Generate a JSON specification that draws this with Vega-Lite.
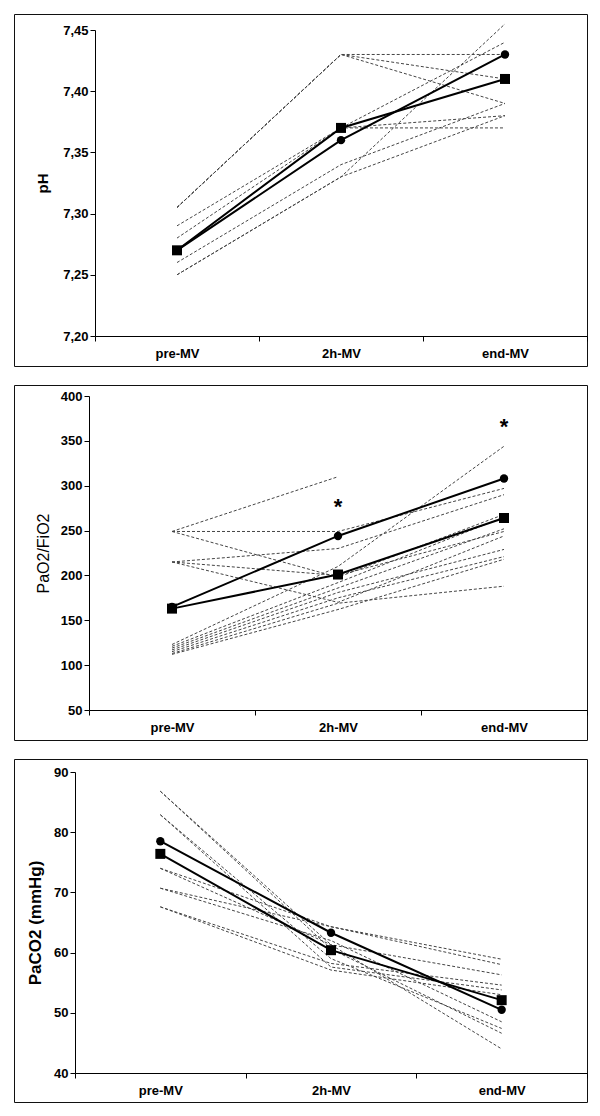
{
  "$schema": "https://vega.github.io/schema/vega-lite/v6.json",
  "padding": {"left": 13, "top": 13, "right": 0, "bottom": 0},
  "spacing": 17,
  "config": {
    "view": {"stroke": "#111", "strokeWidth": 1},
    "font": "Liberation Sans",
    "axis": {
      "domainColor": "#000", "tickColor": "#000", "labelColor": "#000", "titleColor": "#000",
      "labelFont": "Liberation Sans", "titleFont": "Liberation Sans",
      "labelFontWeight": "bold", "labelFontSize": 13, "grid": false, "tickSize": 5,
      "domainWidth": 1, "tickWidth": 1
    }
  },
  "datasets": {
    "ph_pat": [
      {"pt": "A", "t": "pre-MV", "i": 0, "v": 7.305}, {"pt": "A", "t": "2h-MV", "i": 1, "v": 7.43}, {"pt": "A", "t": "end-MV", "i": 2, "v": 7.43},
      {"pt": "B", "t": "pre-MV", "i": 0, "v": 7.305}, {"pt": "B", "t": "2h-MV", "i": 1, "v": 7.43}, {"pt": "B", "t": "end-MV", "i": 2, "v": 7.41},
      {"pt": "C", "t": "pre-MV", "i": 0, "v": 7.305}, {"pt": "C", "t": "2h-MV", "i": 1, "v": 7.43}, {"pt": "C", "t": "end-MV", "i": 2, "v": 7.39},
      {"pt": "D", "t": "pre-MV", "i": 0, "v": 7.29}, {"pt": "D", "t": "2h-MV", "i": 1, "v": 7.37}, {"pt": "D", "t": "end-MV", "i": 2, "v": 7.37},
      {"pt": "E", "t": "pre-MV", "i": 0, "v": 7.28}, {"pt": "E", "t": "2h-MV", "i": 1, "v": 7.37}, {"pt": "E", "t": "end-MV", "i": 2, "v": 7.38},
      {"pt": "F", "t": "pre-MV", "i": 0, "v": 7.27}, {"pt": "F", "t": "2h-MV", "i": 1, "v": 7.37}, {"pt": "F", "t": "end-MV", "i": 2, "v": 7.44},
      {"pt": "G", "t": "pre-MV", "i": 0, "v": 7.26}, {"pt": "G", "t": "2h-MV", "i": 1, "v": 7.34}, {"pt": "G", "t": "end-MV", "i": 2, "v": 7.39},
      {"pt": "H", "t": "pre-MV", "i": 0, "v": 7.25}, {"pt": "H", "t": "2h-MV", "i": 1, "v": 7.33}, {"pt": "H", "t": "end-MV", "i": 2, "v": 7.455},
      {"pt": "I", "t": "pre-MV", "i": 0, "v": 7.25}, {"pt": "I", "t": "2h-MV", "i": 1, "v": 7.33}, {"pt": "I", "t": "end-MV", "i": 2, "v": 7.38}
    ],
    "ph_mean": [
      {"g": "circle", "t": "pre-MV", "i": 0, "v": 7.27}, {"g": "circle", "t": "2h-MV", "i": 1, "v": 7.36}, {"g": "circle", "t": "end-MV", "i": 2, "v": 7.43},
      {"g": "square", "t": "pre-MV", "i": 0, "v": 7.27}, {"g": "square", "t": "2h-MV", "i": 1, "v": 7.37}, {"g": "square", "t": "end-MV", "i": 2, "v": 7.41}
    ],
    "pf_pat": [
      {"pt": "A", "t": "pre-MV", "i": 0, "v": 249}, {"pt": "A", "t": "2h-MV", "i": 1, "v": 310},
      {"pt": "B", "t": "pre-MV", "i": 0, "v": 249}, {"pt": "B", "t": "2h-MV", "i": 1, "v": 249}, {"pt": "B", "t": "end-MV", "i": 2, "v": 297},
      {"pt": "C", "t": "pre-MV", "i": 0, "v": 249}, {"pt": "C", "t": "2h-MV", "i": 1, "v": 198}, {"pt": "C", "t": "end-MV", "i": 2, "v": 268},
      {"pt": "D", "t": "pre-MV", "i": 0, "v": 215}, {"pt": "D", "t": "2h-MV", "i": 1, "v": 230}, {"pt": "D", "t": "end-MV", "i": 2, "v": 290},
      {"pt": "E", "t": "pre-MV", "i": 0, "v": 215}, {"pt": "E", "t": "2h-MV", "i": 1, "v": 200}, {"pt": "E", "t": "end-MV", "i": 2, "v": 249},
      {"pt": "F", "t": "pre-MV", "i": 0, "v": 215}, {"pt": "F", "t": "2h-MV", "i": 1, "v": 170}, {"pt": "F", "t": "end-MV", "i": 2, "v": 244},
      {"pt": "G", "t": "pre-MV", "i": 0, "v": 123}, {"pt": "G", "t": "2h-MV", "i": 1, "v": 210}, {"pt": "G", "t": "end-MV", "i": 2, "v": 344},
      {"pt": "H", "t": "pre-MV", "i": 0, "v": 121}, {"pt": "H", "t": "2h-MV", "i": 1, "v": 192}, {"pt": "H", "t": "end-MV", "i": 2, "v": 265},
      {"pt": "I", "t": "pre-MV", "i": 0, "v": 119}, {"pt": "I", "t": "2h-MV", "i": 1, "v": 186}, {"pt": "I", "t": "end-MV", "i": 2, "v": 252},
      {"pt": "J", "t": "pre-MV", "i": 0, "v": 117}, {"pt": "J", "t": "2h-MV", "i": 1, "v": 181}, {"pt": "J", "t": "end-MV", "i": 2, "v": 229},
      {"pt": "K", "t": "pre-MV", "i": 0, "v": 115}, {"pt": "K", "t": "2h-MV", "i": 1, "v": 175}, {"pt": "K", "t": "end-MV", "i": 2, "v": 221},
      {"pt": "L", "t": "pre-MV", "i": 0, "v": 113}, {"pt": "L", "t": "2h-MV", "i": 1, "v": 169}, {"pt": "L", "t": "end-MV", "i": 2, "v": 188},
      {"pt": "M", "t": "pre-MV", "i": 0, "v": 112}, {"pt": "M", "t": "2h-MV", "i": 1, "v": 162}, {"pt": "M", "t": "end-MV", "i": 2, "v": 218}
    ],
    "pf_mean": [
      {"g": "circle", "t": "pre-MV", "i": 0, "v": 165}, {"g": "circle", "t": "2h-MV", "i": 1, "v": 244}, {"g": "circle", "t": "end-MV", "i": 2, "v": 308},
      {"g": "square", "t": "pre-MV", "i": 0, "v": 163}, {"g": "square", "t": "2h-MV", "i": 1, "v": 201}, {"g": "square", "t": "end-MV", "i": 2, "v": 264}
    ],
    "pf_star": [
      {"t": "2h-MV", "v": 276, "s": "*"},
      {"t": "end-MV", "v": 366, "s": "*"}
    ],
    "co_pat": [
      {"pt": "A", "t": "pre-MV", "i": 0, "v": 86.8}, {"pt": "A", "t": "2h-MV", "i": 1, "v": 60.6}, {"pt": "A", "t": "end-MV", "i": 2, "v": 46.6},
      {"pt": "B", "t": "pre-MV", "i": 0, "v": 82.9}, {"pt": "B", "t": "2h-MV", "i": 1, "v": 57.6}, {"pt": "B", "t": "end-MV", "i": 2, "v": 53.8},
      {"pt": "C", "t": "pre-MV", "i": 0, "v": 74.0}, {"pt": "C", "t": "2h-MV", "i": 1, "v": 64.3}, {"pt": "C", "t": "end-MV", "i": 2, "v": 58.9},
      {"pt": "D", "t": "pre-MV", "i": 0, "v": 70.7}, {"pt": "D", "t": "2h-MV", "i": 1, "v": 64.3}, {"pt": "D", "t": "end-MV", "i": 2, "v": 58.0},
      {"pt": "E", "t": "pre-MV", "i": 0, "v": 67.6}, {"pt": "E", "t": "2h-MV", "i": 1, "v": 58.2}, {"pt": "E", "t": "end-MV", "i": 2, "v": 54.6},
      {"pt": "F", "t": "pre-MV", "i": 0, "v": 86.8}, {"pt": "F", "t": "2h-MV", "i": 1, "v": 61.3}, {"pt": "F", "t": "end-MV", "i": 2, "v": 44.0},
      {"pt": "G", "t": "pre-MV", "i": 0, "v": 82.9}, {"pt": "G", "t": "2h-MV", "i": 1, "v": 59.0}, {"pt": "G", "t": "end-MV", "i": 2, "v": 47.4},
      {"pt": "H", "t": "pre-MV", "i": 0, "v": 74.0}, {"pt": "H", "t": "2h-MV", "i": 1, "v": 61.3}, {"pt": "H", "t": "end-MV", "i": 2, "v": 56.3},
      {"pt": "I", "t": "pre-MV", "i": 0, "v": 67.6}, {"pt": "I", "t": "2h-MV", "i": 1, "v": 57.1}, {"pt": "I", "t": "end-MV", "i": 2, "v": 53.0},
      {"pt": "J", "t": "pre-MV", "i": 0, "v": 70.7}, {"pt": "J", "t": "2h-MV", "i": 1, "v": 62.0}, {"pt": "J", "t": "end-MV", "i": 2, "v": 48.5}
    ],
    "co_mean": [
      {"g": "circle", "t": "pre-MV", "i": 0, "v": 78.5}, {"g": "circle", "t": "2h-MV", "i": 1, "v": 63.3}, {"g": "circle", "t": "end-MV", "i": 2, "v": 50.5},
      {"g": "square", "t": "pre-MV", "i": 0, "v": 76.4}, {"g": "square", "t": "2h-MV", "i": 1, "v": 60.4}, {"g": "square", "t": "end-MV", "i": 2, "v": 52.1}
    ]
  },
  "vconcat": [
    {
      "width": 573, "height": 352,
      "encoding": {
        "x": {"field": "t", "type": "nominal", "sort": ["pre-MV", "2h-MV", "end-MV"],
          "scale": {"type": "band", "domain": ["pre-MV", "2h-MV", "end-MV"], "range": [81, 573], "paddingInner": 0, "paddingOuter": 0},
          "axis": {"title": null, "orient": "bottom", "offset": -30, "tickBand": "extent", "labelAngle": 0, "labelPadding": 6}},
        "y": {"field": "v", "type": "quantitative",
          "scale": {"domain": [7.2, 7.45], "range": [322, 16], "zero": false, "nice": false},
          "axis": {"title": "pH", "orient": "left", "offset": -81, "values": [7.2, 7.25, 7.3, 7.35, 7.4, 7.45],
            "labelExpr": "replace(format(datum.value, '.2f'), '.', ',')", "titleFontSize": 15, "titleFontWeight": "bold", "titlePadding": 12}}
      },
      "layer": [
        {"data": {"name": "ph_pat"}, "mark": {"type": "line", "stroke": "#444", "strokeWidth": 1, "strokeDash": [3, 2]},
          "encoding": {"detail": {"field": "pt"}, "order": {"field": "i"}}},
        {"data": {"name": "ph_mean"}, "mark": {"type": "line", "stroke": "#000", "strokeWidth": 2},
          "encoding": {"detail": {"field": "g"}, "order": {"field": "i"}}},
        {"data": {"name": "ph_mean"}, "transform": [{"filter": "datum.g == 'circle'"}],
          "mark": {"type": "point", "shape": "circle", "filled": true, "color": "#000", "opacity": 1, "size": 70}},
        {"data": {"name": "ph_mean"}, "transform": [{"filter": "datum.g == 'square'"}],
          "mark": {"type": "point", "shape": "square", "filled": true, "color": "#000", "opacity": 1, "size": 100}}
      ]
    },
    {
      "width": 573, "height": 355,
      "encoding": {
        "x": {"field": "t", "type": "nominal", "sort": ["pre-MV", "2h-MV", "end-MV"],
          "scale": {"type": "band", "domain": ["pre-MV", "2h-MV", "end-MV"], "range": [75, 573], "paddingInner": 0, "paddingOuter": 0},
          "axis": {"title": null, "orient": "bottom", "offset": -30, "tickBand": "extent", "labelAngle": 0, "labelPadding": 6}},
        "y": {"field": "v", "type": "quantitative",
          "scale": {"domain": [50, 400], "range": [325, 11], "zero": false, "nice": false},
          "axis": {"title": "PaO2/FiO2", "orient": "left", "offset": -75, "values": [50, 100, 150, 200, 250, 300, 350, 400],
            "titleFontSize": 16, "titleFontWeight": "normal", "titlePadding": 9}}
      },
      "layer": [
        {"data": {"name": "pf_pat"}, "mark": {"type": "line", "stroke": "#444", "strokeWidth": 1, "strokeDash": [3, 2]},
          "encoding": {"detail": {"field": "pt"}, "order": {"field": "i"}}},
        {"data": {"name": "pf_mean"}, "mark": {"type": "line", "stroke": "#000", "strokeWidth": 2},
          "encoding": {"detail": {"field": "g"}, "order": {"field": "i"}}},
        {"data": {"name": "pf_mean"}, "transform": [{"filter": "datum.g == 'circle'"}],
          "mark": {"type": "point", "shape": "circle", "filled": true, "color": "#000", "opacity": 1, "size": 70}},
        {"data": {"name": "pf_mean"}, "transform": [{"filter": "datum.g == 'square'"}],
          "mark": {"type": "point", "shape": "square", "filled": true, "color": "#000", "opacity": 1, "size": 100}},
        {"data": {"name": "pf_star"}, "mark": {"type": "text", "fontSize": 22, "fontWeight": "bold", "color": "#000", "baseline": "middle", "dy": 0},
          "encoding": {"text": {"field": "s"}}}
      ]
    },
    {
      "width": 573, "height": 343,
      "encoding": {
        "x": {"field": "t", "type": "nominal", "sort": ["pre-MV", "2h-MV", "end-MV"],
          "scale": {"type": "band", "domain": ["pre-MV", "2h-MV", "end-MV"], "range": [61, 573], "paddingInner": 0, "paddingOuter": 0},
          "axis": {"title": null, "orient": "bottom", "offset": -29, "tickBand": "extent", "labelAngle": 0, "labelPadding": 6}},
        "y": {"field": "v", "type": "quantitative",
          "scale": {"domain": [40, 90], "range": [314, 13], "zero": false, "nice": false},
          "axis": {"title": "PaCO2 (mmHg)", "orient": "left", "offset": -61, "values": [40, 50, 60, 70, 80, 90],
            "titleFontSize": 17, "titleFontWeight": "bold", "titlePadding": 9}}
      },
      "layer": [
        {"data": {"name": "co_pat"}, "mark": {"type": "line", "stroke": "#444", "strokeWidth": 1, "strokeDash": [3, 2]},
          "encoding": {"detail": {"field": "pt"}, "order": {"field": "i"}}},
        {"data": {"name": "co_mean"}, "mark": {"type": "line", "stroke": "#000", "strokeWidth": 2},
          "encoding": {"detail": {"field": "g"}, "order": {"field": "i"}}},
        {"data": {"name": "co_mean"}, "transform": [{"filter": "datum.g == 'circle'"}],
          "mark": {"type": "point", "shape": "circle", "filled": true, "color": "#000", "opacity": 1, "size": 70}},
        {"data": {"name": "co_mean"}, "transform": [{"filter": "datum.g == 'square'"}],
          "mark": {"type": "point", "shape": "square", "filled": true, "color": "#000", "opacity": 1, "size": 100}}
      ]
    }
  ]
}
